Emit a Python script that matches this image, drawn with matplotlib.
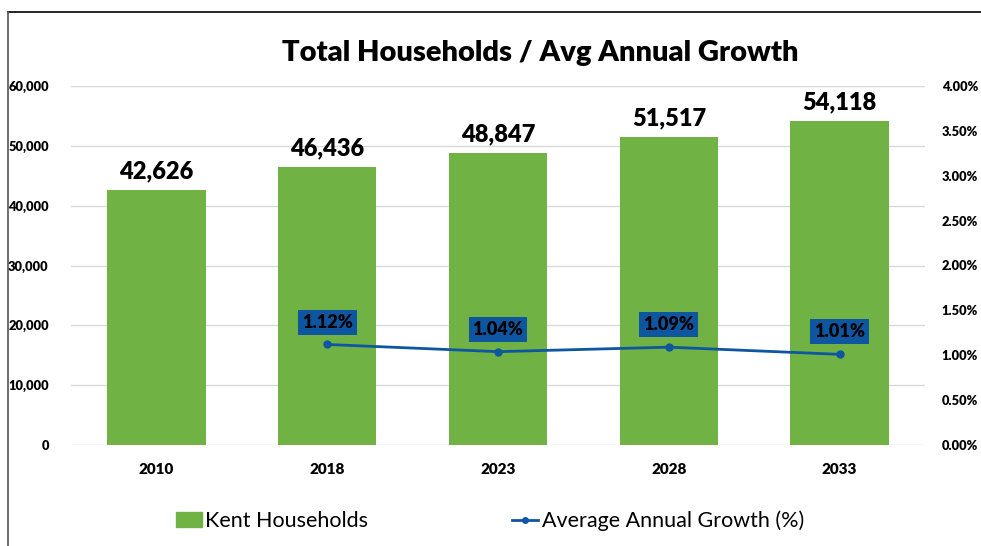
import matplotlib
matplotlib.use("Agg")
import matplotlib.pyplot as plt
from matplotlib.lines import Line2D
from matplotlib.patches import Patch
from matplotlib.ticker import FuncFormatter, MultipleLocator

years = ["2010", "2018", "2023", "2028", "2033"]
households = [42626, 46436, 48847, 51517, 54118]
growth_years = ["2018", "2023", "2028", "2033"]
growth_pct = [1.12, 1.04, 1.09, 1.01]

GREEN = "#70B244"
BLUE = "#0F56A0"
plt.rcParams["font.family"] = ["Lato", "DejaVu Sans"]

fig = plt.figure(figsize=(9.81, 5.46), dpi=100)
ax = fig.add_axes([71 / 981, 101 / 546, 854 / 981, 359 / 546])
ax2 = ax.twinx()

x = list(range(len(years)))
ax.bar(x, households, width=0.575, color=GREEN, zorder=2)
for xi, v in zip(x, households):
    ax.text(xi, v + 1300, f"{v:,}", ha="center", va="bottom",
            fontsize=17, fontweight="heavy")

ax.set_xlim(-0.5, len(years) - 0.5)
ax.set_ylim(0, 60000)
ax.yaxis.set_major_locator(MultipleLocator(10000))
ax.yaxis.set_major_formatter(FuncFormatter(lambda v, p: f"{v:,.0f}"))
ax.set_xticks(x)
ax.set_xticklabels(years, fontsize=11, fontweight="heavy")
ax.grid(axis="y", color="#D9D9D9", lw=1, zorder=0)
ax.set_axisbelow(True)
for lbl in ax.get_yticklabels():
    lbl.set_fontweight("heavy")
    lbl.set_fontsize(9.3)
ax.tick_params(axis="both", length=0)
ax.tick_params(axis="y", pad=16)
ax.tick_params(axis="x", pad=13)
for s in ax.spines.values():
    s.set_visible(False)

gx = [years.index(y) for y in growth_years]
ax2.plot(gx, growth_pct, color=BLUE, lw=2, marker="o", ms=5, zorder=3)
for xi, v in zip(gx, growth_pct):
    ax2.text(xi, v + 0.25, f"{v:.2f}%", ha="center", va="center",
             fontsize=13, fontweight="heavy", color="black",
             bbox=dict(boxstyle="square,pad=0.22", fc=BLUE, ec="none"))
ax2.set_ylim(0, 4)
ax2.yaxis.set_major_locator(MultipleLocator(0.5))
ax2.yaxis.set_major_formatter(FuncFormatter(lambda v, p: f"{v:.2f}%"))
for lbl in ax2.get_yticklabels():
    lbl.set_fontweight("heavy")
    lbl.set_fontsize(9.3)
ax2.tick_params(axis="y", length=0, pad=12)
for s in ax2.spines.values():
    s.set_visible(False)

fig.text(540 / 981, 1 - 53 / 546, "Total Households / Avg Annual Growth",
         ha="center", va="center", fontsize=21, fontweight="heavy")

handles = [Patch(color=GREEN),
           Line2D([0], [0], color=BLUE, lw=2, marker="o", ms=4)]
fig.legend(handles, ["Kent Households", "Average Annual Growth (%)"],
           loc="center", bbox_to_anchor=(490 / 981, 1 - 521 / 546), ncol=2,
           frameon=False, fontsize=15.5, columnspacing=6.7, handlelength=1.2,
           handletextpad=0.15)

# chart frame edges
fig.add_artist(Line2D([8 / 981, 1], [1 - 12 / 546] * 2, color="black", lw=1.2))
fig.add_artist(Line2D([8 / 981] * 2, [0, 1 - 12 / 546], color="#555555", lw=1.2))

fig.savefig("out.png", dpi=100)
